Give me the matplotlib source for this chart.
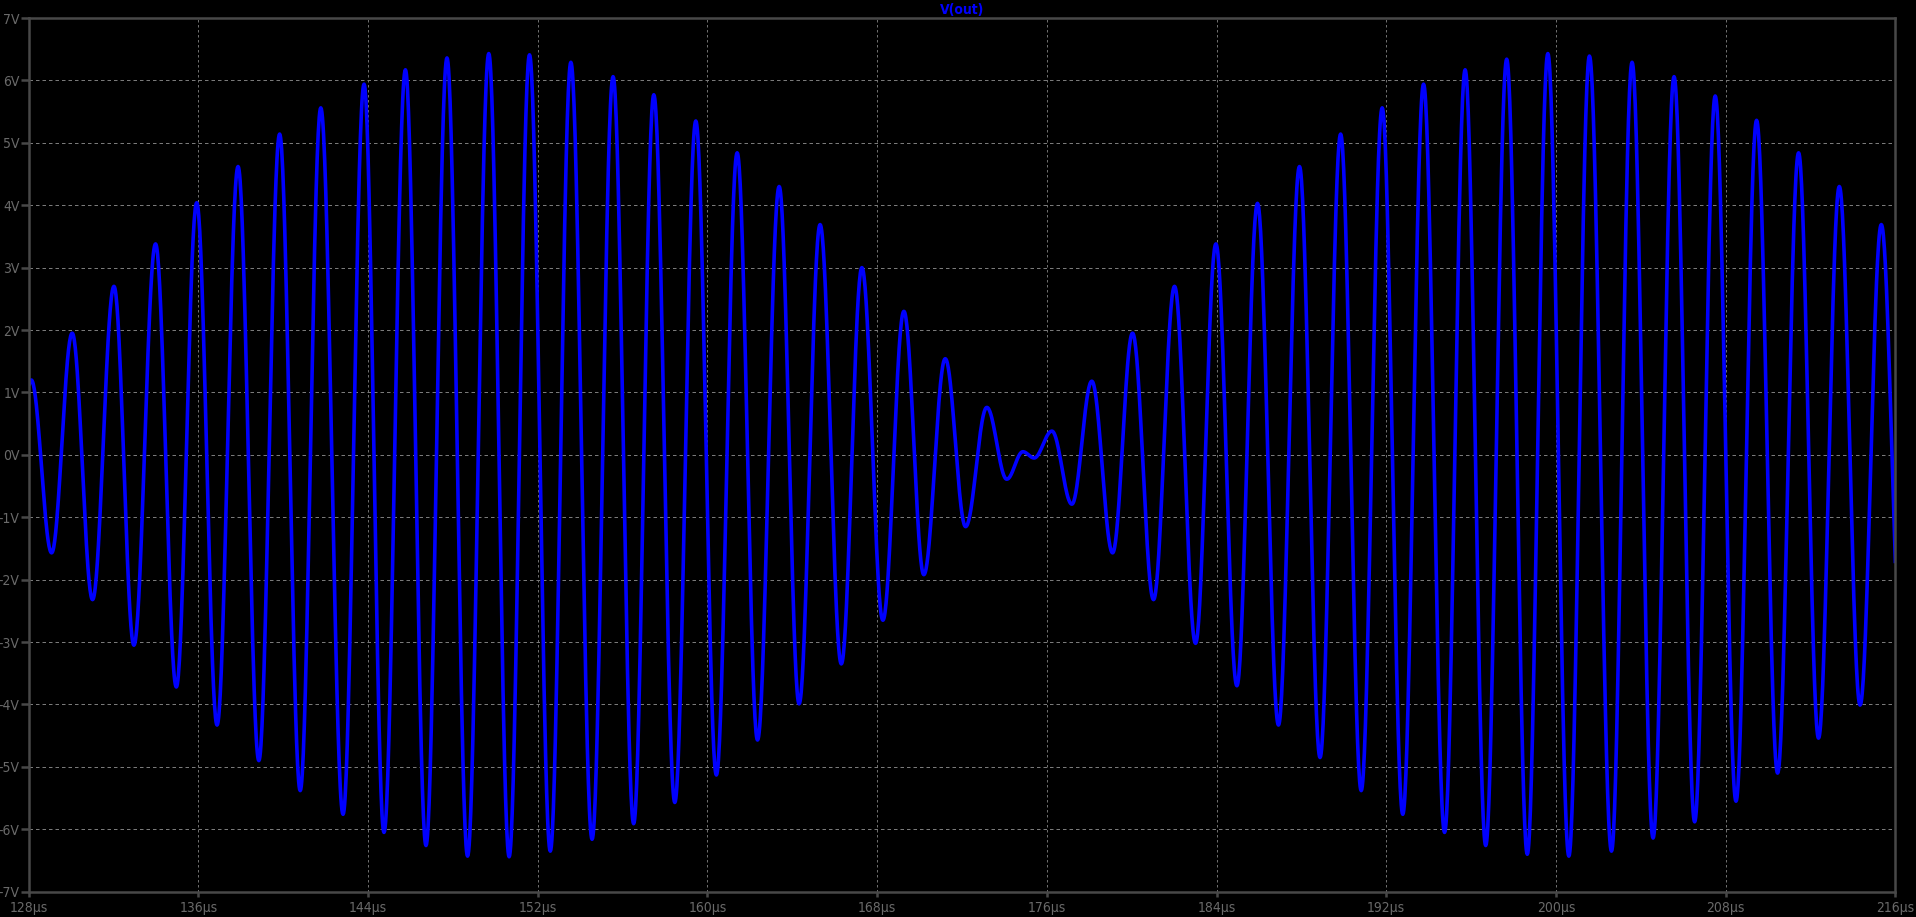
import numpy as np
import matplotlib
matplotlib.use("Agg")
import matplotlib.pyplot as plt

ext_t = [128.00, 128.12, 129.08, 130.05, 131.01, 132.02, 132.96, 133.98, 134.96, 135.92,
         136.88, 137.87, 138.85, 139.83, 140.80, 141.77, 142.82, 143.81, 144.75, 145.76,
         146.73, 147.72, 148.69, 149.69, 150.65, 151.61, 152.59, 153.56, 154.56, 155.55,
         156.52, 157.47, 158.46, 159.45, 160.42, 161.40, 162.36, 163.38, 164.32, 165.31,
         166.31, 167.28, 168.27, 169.26, 170.20, 171.21, 172.17, 173.17, 174.11, 174.87,
         175.40, 176.24, 177.18, 178.12, 179.10, 180.04, 181.03, 182.02, 183.01, 183.97,
         184.96, 185.93, 186.92, 187.91, 188.88, 189.85, 190.82, 191.81, 192.78, 193.76,
         194.75, 195.72, 196.69, 197.68, 198.65, 199.62, 200.61, 201.58, 202.62, 203.59,
         204.58, 205.57, 206.54, 207.51, 208.49, 209.46, 210.45, 211.44, 212.38, 213.36,
         214.34, 215.34, 216.32]
ext_v = [1.12, 1.20, -1.57, 1.95, -2.32, 2.70, -3.05, 3.38, -3.72, 4.04,
         -4.33, 4.62, -4.90, 5.14, -5.38, 5.56, -5.76, 5.94, -6.05, 6.17,
         -6.26, 6.36, -6.43, 6.43, -6.44, 6.41, -6.35, 6.29, -6.16, 6.06,
         -5.91, 5.77, -5.57, 5.35, -5.13, 4.84, -4.57, 4.30, -3.99, 3.69,
         -3.35, 3.00, -2.65, 2.30, -1.92, 1.54, -1.15, 0.76, -0.39, 0.05,
         -0.05, 0.38, -0.79, 1.18, -1.57, 1.95, -2.32, 2.70, -3.02, 3.38,
         -3.70, 4.03, -4.33, 4.62, -4.85, 5.14, -5.38, 5.56, -5.76, 5.94,
         -6.05, 6.17, -6.26, 6.34, -6.40, 6.43, -6.43, 6.39, -6.35, 6.29,
         -6.14, 6.06, -5.88, 5.75, -5.55, 5.36, -5.10, 4.84, -4.54, 4.30,
         -4.01, 3.69, -3.40]

x_ticks = list(range(128, 217, 8))
x_labels = [f"{t}µs" for t in x_ticks]
y_ticks = list(range(-7, 8))
y_labels = [f"{v}V" for v in y_ticks]
trace_name = "V(out)"

# Smooth rendering between successive extrema (half-cosine segments)
tt, vv = [], []
for i in range(len(ext_t) - 1):
    s = np.linspace(0, 1, 40, endpoint=False)
    tt.append(ext_t[i] + (ext_t[i + 1] - ext_t[i]) * s)
    vv.append(ext_v[i] + (ext_v[i + 1] - ext_v[i]) * (1 - np.cos(np.pi * s)) / 2)
tt.append([ext_t[-1]]); vv.append([ext_v[-1]])
tt = np.concatenate(tt); vv = np.concatenate(vv)

W, H = 1916, 917
fig = plt.figure(figsize=(W / 100, H / 100), dpi=100, facecolor="black")
L, R, T, B = 28.7, 1895.3, 18.0, 891.7
ax = fig.add_axes([L / W, 1 - B / H, (R - L) / W, (B - T) / H])
ax.set_facecolor("black")

ax.plot(tt, vv, color="#0000ff", lw=2.6, solid_joinstyle="round", zorder=3)
ax.set_xlim(128, 216)
ax.set_ylim(-7, 7)

ax.set_xticks(x_ticks)
ax.set_xticklabels(x_labels)
ax.set_yticks(y_ticks)
ax.set_yticklabels(y_labels)

ax.grid(True, axis="y", color="#7a7a7a", linestyle=(0, (3.5, 3)), linewidth=0.72, zorder=1)
ax.grid(True, axis="x", color="#6e6e6e", linestyle=(0, (2.5, 2.5)), linewidth=0.72, zorder=1)
for sp in ax.spines.values():
    sp.set_color("#484848")
    sp.set_linewidth(1.8)
    sp.set_zorder(4)

lab_font = dict(family="DejaVu Sans", stretch="condensed")
ax.tick_params(axis="x", colors="#484848", length=3.6, width=1.8, pad=3.2,
               labelcolor="#6a6a6a", labelsize=10)
ax.tick_params(axis="y", colors="#484848", length=6.0, width=1.8, pad=0.5,
               labelcolor="#6a6a6a", labelsize=10)
for lab in ax.get_xticklabels() + ax.get_yticklabels():
    lab.set_fontstretch("condensed")

fig.text((L + R) / 2 / W, 1 - 9.5 / H, trace_name, color="#0000ff",
         ha="center", va="center", fontsize=10, fontweight="bold", fontstretch="condensed")

fig.savefig("out.png", dpi=100, facecolor="black")
